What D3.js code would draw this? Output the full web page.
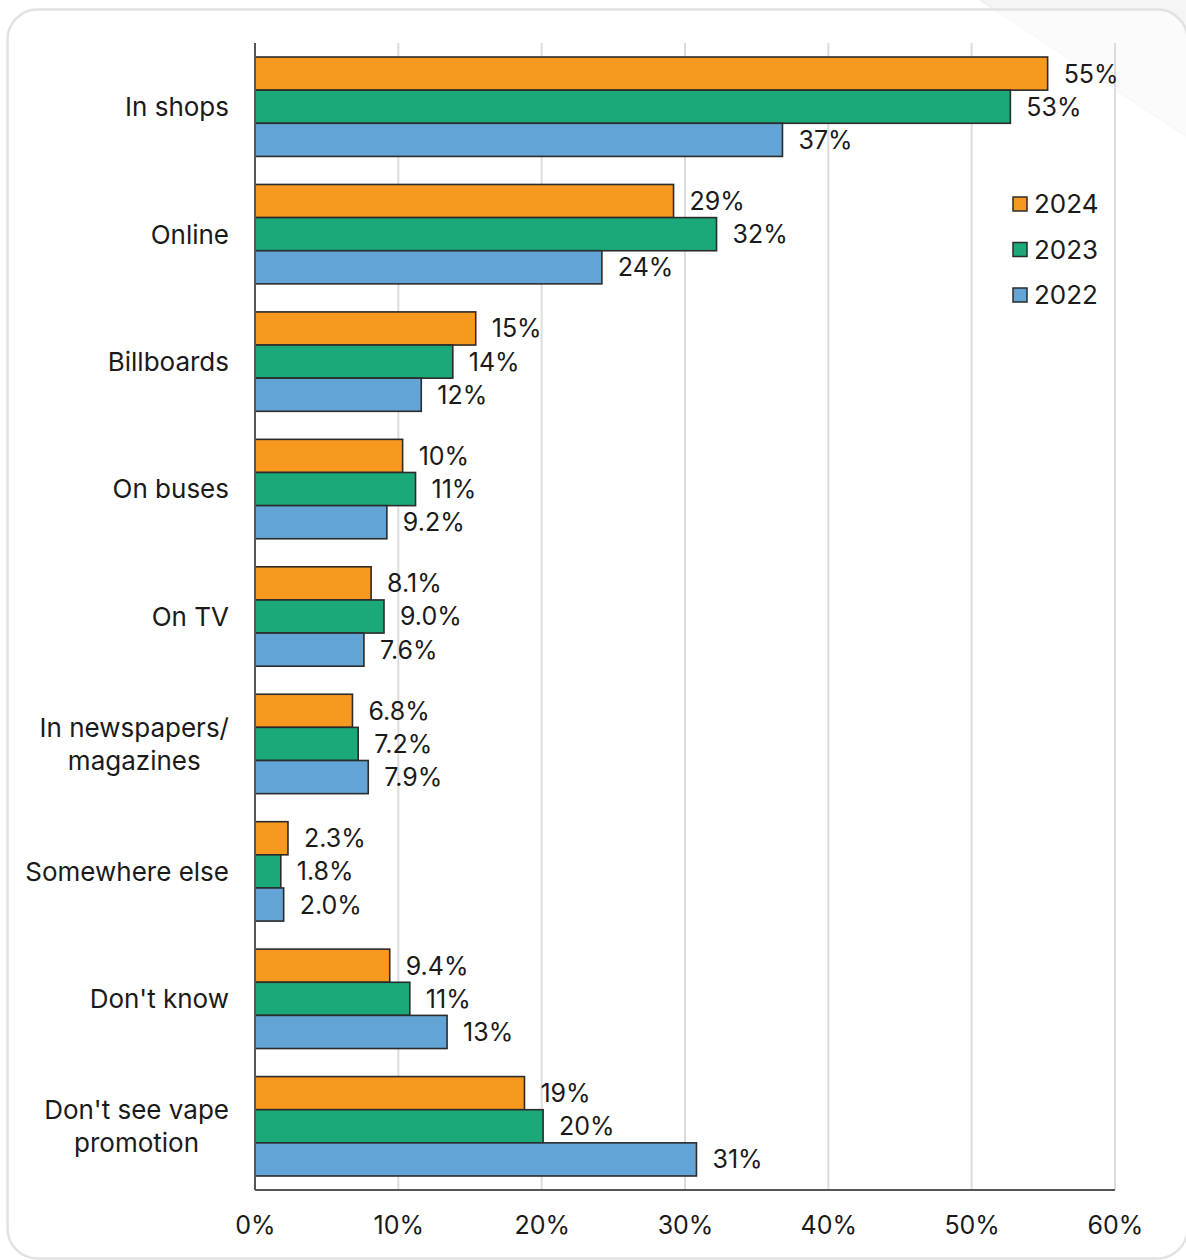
<!DOCTYPE html>
<html>
<head>
<meta charset="utf-8">
<script src="https://cdn.jsdelivr.net/npm/d3@7"></script>
<style>
  html, body { margin: 0; padding: 0; background: #ffffff; }
  svg { display: block; font-family: Inter, "Noto Sans", sans-serif; }
</style>
</head>
<body>
<svg id="chart" width="1186" height="1260"></svg>
<script>
// ---- data ----
const categories = [
  ["In shops"],
  ["Online"],
  ["Billboards"],
  ["On buses"],
  ["On TV"],
  ["In newspapers/", "magazines"],
  ["Somewhere else"],
  ["Don't know"],
  ["Don't see vape", "promotion"]
];
const seriesNames = ["2024", "2023", "2022"];
const seriesColors = ["#F7981F", "#1BA97A", "#62A4D5"];
const values2024 = [55.3, 29.2, 15.4, 10.3, 8.1, 6.8, 2.3, 9.4, 18.8];
const values2023 = [52.7, 32.2, 13.8, 11.2, 9.0, 7.2, 1.8, 10.8, 20.1];
const values2022 = [36.8, 24.2, 11.6, 9.2, 7.6, 7.9, 2.0, 13.4, 30.8];
const xTicks = [0, 10, 20, 30, 40, 50, 60];

const seriesValues = [values2024, values2023, values2022];

// ---- layout ----
const svg = d3.select("#chart");
const plotLeft = 255, plotRight = 1115, plotTop = 43, plotBottom = 1190;

// background decoration
svg.append("polygon")
  .attr("points", `980,0 1186,0 1186,136`)
  .attr("fill", "#f5f5f5");
svg.append("line")
  .attr("x1", 980).attr("y1", 0).attr("x2", 1186).attr("y2", 136)
  .attr("stroke", "#eeeeee").attr("stroke-width", 1.5);

// card
svg.append("rect")
  .attr("x", 7.5).attr("y", 9.5)
  .attr("width", 1180).attr("height", 1249)
  .attr("rx", 30)
  .attr("fill", "#ffffff").attr("fill-opacity", 0.6)
  .attr("stroke", "#e2e2e2").attr("stroke-width", 2.5);

const x = d3.scaleLinear().domain([0, 60]).range([plotLeft, plotRight]);
const y = d3.scaleBand()
  .domain(d3.range(categories.length))
  .range([plotTop, plotBottom])
  .paddingInner(0.22)
  .paddingOuter(0.11);
const ySub = d3.scaleBand()
  .domain(d3.range(seriesNames.length))
  .range([0, y.bandwidth()]);

// grid
svg.append("g").selectAll("line")
  .data(xTicks.filter(t => t > 0))
  .join("line")
  .attr("x1", d => x(d)).attr("x2", d => x(d))
  .attr("y1", plotTop).attr("y2", plotBottom)
  .attr("stroke", "#dcdcdc").attr("stroke-width", 2);

// bars
const groups = svg.append("g").selectAll("g")
  .data(categories.map((c, i) => i))
  .join("g")
  .attr("transform", i => `translate(0,${y(i)})`);

const fmt = v => v >= 10 ? Math.round(v) + "%" : v.toFixed(1) + "%";

groups.each(function(ci) {
  const g = d3.select(this);
  seriesNames.forEach((s, si) => {
    const v = seriesValues[si][ci];
    g.append("rect")
      .attr("x", x(0))
      .attr("y", ySub(si))
      .attr("width", x(v) - x(0))
      .attr("height", ySub.bandwidth())
      .attr("fill", seriesColors[si])
      .attr("stroke", "#2b2b2b")
      .attr("stroke-width", 1.6);
    g.append("text")
      .attr("x", x(v) + 16)
      .attr("y", ySub(si) + ySub.bandwidth() / 2)
      .attr("dy", "0.36em")
      .attr("font-size", 25)
      .attr("fill", "#1a1a1a")
      .text(fmt(v));
  });
});

// category labels (multi-line labels are centred as a block, right edge at 229)
categories.forEach((lines, i) => {
  const cy = y(i) + y.bandwidth() / 2;
  const lh = 33;
  const t = svg.append("text")
    .attr("font-size", 26)
    .attr("fill", "#1a1a1a");
  const spans = lines.map((ln, k) => t.append("tspan")
      .attr("y", cy + (k - (lines.length - 1) / 2) * lh)
      .attr("dy", "0.36em")
      .text(ln));
  if (lines.length === 1) {
    t.attr("text-anchor", "end");
    spans[0].attr("x", 229);
  } else {
    const maxW = d3.max(spans, s => s.node().getComputedTextLength());
    t.attr("text-anchor", "middle");
    spans.forEach(s => s.attr("x", 229 - maxW / 2));
  }
});

// axes
const xAxis = d3.axisBottom(x)
  .tickValues(xTicks)
  .tickSize(0)
  .tickPadding(26)
  .tickFormat(d => d + "%");
const gx = svg.append("g")
  .attr("transform", `translate(0,${plotBottom})`)
  .call(xAxis);
gx.select(".domain").remove();
gx.selectAll("text")
  .attr("font-size", 25)
  .attr("font-family", "Inter, 'Noto Sans', sans-serif")
  .attr("fill", "#1a1a1a");

svg.append("line")
  .attr("x1", plotLeft).attr("x2", plotRight)
  .attr("y1", plotBottom).attr("y2", plotBottom)
  .attr("stroke", "#555").attr("stroke-width", 2);
svg.append("line")
  .attr("x1", plotLeft).attr("x2", plotLeft)
  .attr("y1", plotTop).attr("y2", plotBottom)
  .attr("stroke", "#555").attr("stroke-width", 2);

// legend
const legend = svg.append("g");
seriesNames.forEach((s, i) => {
  const ly = 204 + i * 45.5;
  legend.append("rect")
    .attr("x", 1013).attr("y", ly - 7)
    .attr("width", 14).attr("height", 14)
    .attr("fill", seriesColors[i])
    .attr("stroke", "#2b2b2b").attr("stroke-width", 1.5);
  legend.append("text")
    .attr("x", 1034).attr("y", ly)
    .attr("dy", "0.36em")
    .attr("font-size", 26)
    .attr("fill", "#1a1a1a")
    .text(s);
});
</script>
</body>
</html>
